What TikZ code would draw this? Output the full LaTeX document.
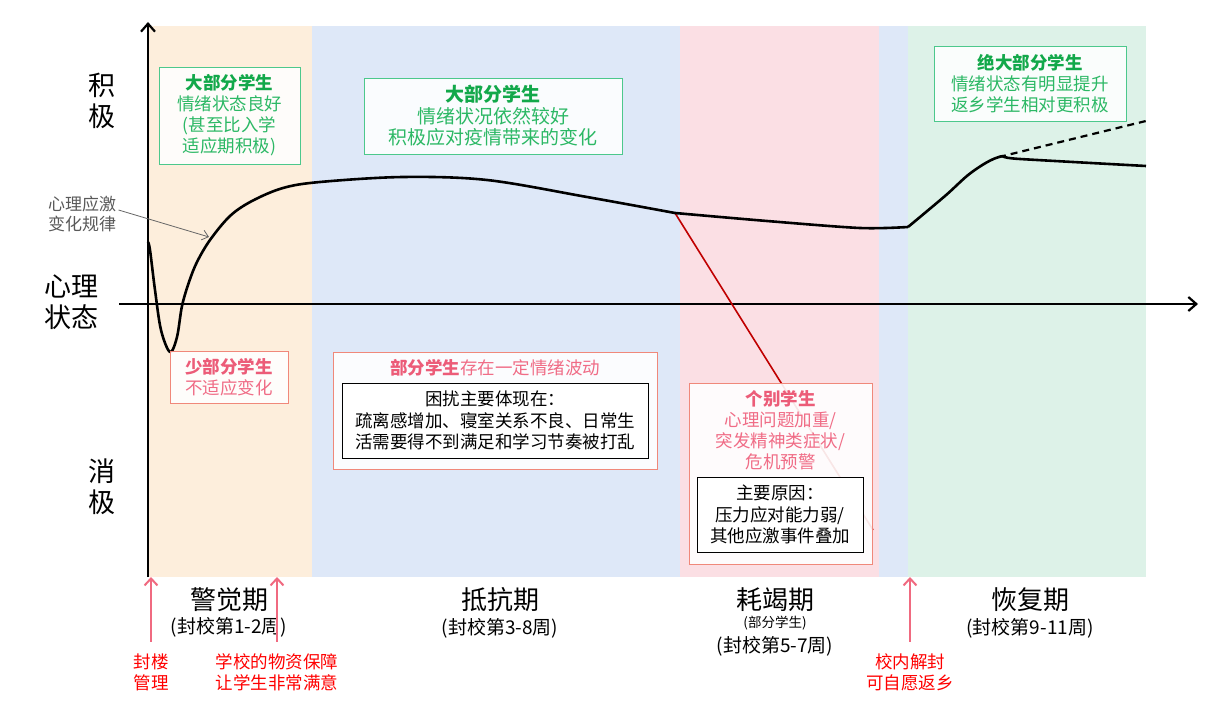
\documentclass[tikz,border=0pt]{standalone}
\usepackage{fontspec}
\setmainfont{Noto Sans CJK SC}
\usetikzlibrary{arrows.meta,positioning}

\definecolor{alarmbg}{HTML}{FDEEDC}
\definecolor{resistbg}{HTML}{DEE8F8}
\definecolor{exhaustbg}{HTML}{FBDFE4}
\definecolor{recoverbg}{HTML}{DDF2E8}
\definecolor{goodline}{HTML}{4CC88C}
\definecolor{goodtitle}{HTML}{12A84A}
\definecolor{goodtext}{HTML}{2CB865}
\definecolor{badline}{HTML}{F0887A}
\definecolor{badtitle}{HTML}{EC5C78}
\definecolor{badtext}{HTML}{F06C86}
\definecolor{eventarrow}{HTML}{F06A80}
\definecolor{crisisred}{HTML}{C00000}

\begin{document}
\begin{tikzpicture}[x=1pt, y=-1pt,
    goodbox/.style={
        draw=goodline,
        fill=white, fill opacity=0.88, text opacity=1,
        line width=0.9pt,
        inner sep=0pt,
        align=center,
        text=goodtext,
        font=\fontsize{17.5}{21}\selectfont
    },
    badbox/.style={
        draw=badline,
        fill=white, fill opacity=0.9, text opacity=1,
        line width=0.9pt,
        inner sep=0pt,
        align=center,
        text=badtext,
        font=\fontsize{17.5}{21}\selectfont
    },
    causebox/.style={
        draw=black,
        fill=white,
        line width=0.9pt,
        inner sep=0pt,
        align=center,
        font=\fontsize{17.5}{21.5}\selectfont
    },
    phasename/.style={font=\fontsize{26}{30}\selectfont},
    phaseweeks/.style={font=\fontsize{19}{22}\selectfont},
    eventlabel/.style={text=red, align=center, font=\fontsize{17.5}{21}\selectfont},
    eventarrow/.style={
        -{Straight Barb[length=7pt, width=13pt]},
        line width=2pt,
        draw=eventarrow,
        shorten <=8pt
    },
    axis/.style={-{Straight Barb[length=8pt, width=14pt]}, line width=2.2pt},
    curve/.style={line width=2.6pt, line join=round}
]
    \useasboundingbox (0,0) rectangle (1227,727);

    % phase bands
    \fill[resistbg] (312,26) rectangle (908,577);
    \fill[alarmbg] (148,26) rectangle (312,577);
    \fill[exhaustbg] (680,26) rectangle (879,577);
    \fill[recoverbg] (908,26) rectangle (1146,577);

    % axes
    \coordinate (ybot) at (148,577);
    \coordinate (ytop) at (148,22);
    \coordinate (xleft) at (119,304);
    \coordinate (xright) at (1198,304);
    \draw[axis] (ybot) -- (ytop);
    \draw[axis] (xleft) -- (xright);

    \node[font=\fontsize{27}{31}\selectfont, align=center] (pos) at (102,101) {积\\极};
    \node[font=\fontsize{27}{31}\selectfont, align=center] (state) at (72,302) {心理\\状态};
    \node[font=\fontsize{27}{31}\selectfont, align=center] (neg) at (102,487) {消\\极};

    % stress curve
    \coordinate (turn) at (675,213);
    \coordinate (lift) at (908,227);
    \coordinate (peak) at (999,157);
    \coordinate (crisis) at (873,530);
    \coordinate (hope) at (1146,121);
    \draw[crisisred, line width=1.6pt] (turn) -- (crisis);
    \draw[curve] plot[smooth, tension=0.55] coordinates {
        (148,242) (150,250) (155,290) (161,330) (170,352) (177,337) (182,306)
        (189,282) (197,262) (210,240) (230,216) (252,201) (283,188) (320,182)
        (403,177) (487,180) (587,197) (675,213)};
    \draw[curve] plot[smooth, tension=0.5] coordinates {
        (675,213) (767,221) (860,228) (908,227)};
    \draw[curve] plot[smooth, tension=0.6] coordinates {
        (908,227) (945,196) (972,172) (999,157) (1020,159) (1146,166)};
    \draw[line width=2.2pt, dash pattern=on 7pt off 5pt] (peak) -- (hope);

    \node[text=black!65, align=center, font=\fontsize{17}{20}\selectfont] (rule) at (82,214) {心理应激\\变化规律};
    \coordinate (ruletip) at (209,237);
    \draw[-{Straight Barb[length=6pt, width=10pt]}, draw=black!60, line width=0.8pt] (rule.east) ++(-1,-4) -- (ruletip);

    % notes
    \node[goodbox, minimum width=141, minimum height=97] (alarmgood) at (229.5,115.5)
        {\textcolor{goodtitle}{\bfseries 大部分学生}\\情绪状态良好\\(甚至比入学\\适应期积极)};
    \node[badbox, minimum width=118, minimum height=52, font=\fontsize{17.5}{20.5}\selectfont] (alarmbad) at (229,377)
        {\textcolor{badtitle}{\bfseries 少部分学生}\\不适应变化};
    \node[goodbox, minimum width=258, minimum height=76, font=\fontsize{19}{21.5}\selectfont] (resistgood) at (493,116)
        {\textcolor{goodtitle}{\bfseries 大部分学生}\\情绪状况依然较好\\积极应对疫情带来的变化};
    \node[badbox, minimum width=324, minimum height=117] (resistbad) at (495,410.5) {};
    \node[text=badtext, font=\fontsize{17.5}{21}\selectfont] (resisttitle) at (495,368)
        {\textcolor{badtitle}{\bfseries 部分学生}存在一定情绪波动};
    \node[causebox, minimum width=306, minimum height=75] (resistcause) at (495,420.5)
        {困扰主要体现在：\\疏离感增加、寝室关系不良、日常生\\活需要得不到满足和学习节奏被打乱};
    \node[badbox, minimum width=183, minimum height=181] (exhaustbad) at (780.5,473.5) {};
    \node[text=badtext, align=center, font=\fontsize{17.5}{21}\selectfont] (exhausttitle) at (780.5,430.5)
        {\textcolor{badtitle}{\bfseries 个别学生}\\心理问题加重/\\突发精神类症状/\\危机预警};
    \node[causebox, minimum width=166, minimum height=75] (exhaustcause) at (780,514.5)
        {主要原因：\\压力应对能力弱/\\其他应激事件叠加};
    \node[goodbox, minimum width=192, minimum height=75] (recovergood) at (1030,83.5)
        {\textcolor{goodtitle}{\bfseries 绝大部分学生}\\情绪状态有明显提升\\返乡学生相对更积极};

    % phases
    \node[phasename] (alarm) at (229,600) {警觉期};
    \node[phaseweeks] (alarmwk) at (229,627) {(封校第1-2周)};
    \node[phasename] (resist) at (500,600) {抵抗期};
    \node[phaseweeks] (resistwk) at (500,628) {(封校第3-8周)};
    \node[phasename] (exhaust) at (775,600) {耗竭期};
    \node[font=\fontsize{13.5}{16}\selectfont] (exhaustpart) at (775,623) {(部分学生)};
    \node[phaseweeks] (exhaustwk) at (775,646) {(封校第5-7周)};
    \node[phasename] (recover) at (1030,600) {恢复期};
    \node[phaseweeks] (recoverwk) at (1030,628) {(封校第9-11周)};

    % events
    \node[eventlabel] (lock) at (151,672) {封楼\\管理};
    \node[eventlabel] (supply) at (277,672) {学校的物资保障\\让学生非常满意};
    \node[eventlabel] (unlock) at (910,672) {校内解封\\可自愿返乡};
    \coordinate (locktip) at (151,577);
    \coordinate (supplytip) at (277,577);
    \coordinate (unlocktip) at (910,577);
    \draw[eventarrow] (lock.north) -- (locktip);
    \draw[eventarrow] (supply.north) -- (supplytip);
    \draw[eventarrow] (unlock.north) -- (unlocktip);
\end{tikzpicture}
\end{document}
